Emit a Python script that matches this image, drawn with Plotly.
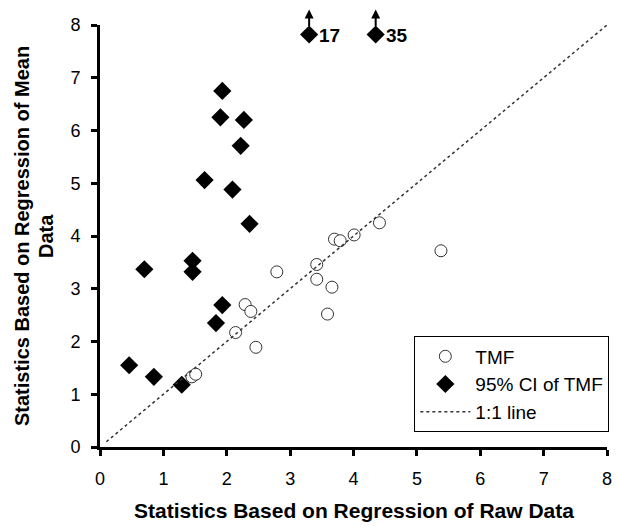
import plotly.graph_objects as go

# TMF point estimates
tmf_x = [1.45, 1.51, 2.14, 2.29, 2.38, 2.46, 2.79, 3.42, 3.42, 3.59, 3.66, 3.70, 3.79, 4.01, 4.41, 5.38]
tmf_y = [1.33, 1.38, 2.17, 2.70, 2.57, 1.89, 3.32, 3.46, 3.18, 2.52, 3.03, 3.94, 3.91, 4.02, 4.25, 3.72]

# 95% CI bounds of TMF
ci_x = [0.46, 0.70, 0.85, 1.29, 1.46, 1.46, 1.65, 1.83, 1.90, 1.93, 1.93, 2.09, 2.22, 2.27, 2.36, 3.30, 4.35]
ci_y = [1.55, 3.37, 1.33, 1.18, 3.53, 3.32, 5.06, 2.35, 6.25, 6.75, 2.69, 4.88, 5.71, 6.20, 4.23, 7.82, 7.82]

# off-scale values (plotted at the top edge)
offscale_x = [3.30, 4.35]
offscale_y = [7.82, 7.82]
offscale_labels = ["17", "35"]

# 1:1 line
line_x = [0.1, 8]
line_y = [0.1, 8]

ticks = [0, 1, 2, 3, 4, 5, 6, 7, 8]

FONT = "Liberation Sans, Arial, sans-serif"

fig = go.Figure()
fig.add_trace(go.Scatter(
    x=tmf_x, y=tmf_y, mode="markers", name="TMF",
    marker=dict(symbol="circle", size=12, color="white",
                line=dict(color="#333333", width=1)),
    cliponaxis=False))
fig.add_trace(go.Scatter(
    x=ci_x, y=ci_y, mode="markers", name="95% CI of TMF",
    marker=dict(symbol="diamond", size=14, color="black",
                line=dict(color="black", width=0)),
    cliponaxis=False))
fig.add_trace(go.Scatter(
    x=line_x, y=line_y, mode="lines", name="1:1 line",
    line=dict(color="#333333", width=1.5, dash="dot")))

annotations = []
for xv, yv, lab in zip(offscale_x, offscale_y, offscale_labels):
    annotations.append(dict(
        x=xv, y=yv, xref="x", yref="y", yshift=25,
        text="", showarrow=True, ax=0, ay=18,
        arrowhead=2, arrowsize=0.9, arrowwidth=2, arrowcolor="black",
        standoff=0, startstandoff=0))
    annotations.append(dict(
        x=xv, y=yv, xref="x", yref="y", text="<b>" + lab + "</b>",
        showarrow=False, xanchor="left", xshift=8, yshift=-1,
        font=dict(family=FONT, size=19, color="black")))

# axis titles
annotations.append(dict(
    x=0.5, y=0, xref="paper", yref="paper", yshift=-63,
    text="<b>Statistics Based on Regression of Raw Data</b>",
    showarrow=False, xanchor="center", yanchor="middle",
    font=dict(family=FONT, size=21, color="black")))
annotations.append(dict(
    x=0, y=0.5, xref="paper", yref="paper", xshift=-78,
    text="<b>Statistics Based on Regression of Mean</b>",
    showarrow=False, textangle=-90, xanchor="center", yanchor="middle",
    font=dict(family=FONT, size=20, color="black")))
annotations.append(dict(
    x=0, y=0.5, xref="paper", yref="paper", xshift=-54,
    text="<b>Data</b>",
    showarrow=False, textangle=-90, xanchor="center", yanchor="middle",
    font=dict(family=FONT, size=20, color="black")))

axis_common = dict(
    range=[0, 8], tickvals=ticks, ticktext=[str(t) for t in ticks],
    showline=True, linewidth=3, linecolor="black",
    ticks="outside", ticklen=6, tickwidth=3, tickcolor="black",
    showgrid=False, zeroline=False,
    tickfont=dict(family=FONT, size=18, color="black"),
)

fig.update_layout(
    width=618, height=527,
    margin=dict(l=100, r=11, t=25, b=80, autoexpand=False),
    paper_bgcolor="white", plot_bgcolor="white",
    xaxis=dict(**axis_common, ticklabelstandoff=7, automargin=False),
    yaxis=dict(**axis_common, ticklabelstandoff=7, automargin=False),
    showlegend=True,
    legend=dict(x=0.62, y=0.262, xanchor="left", yanchor="top",
                bordercolor="black", borderwidth=1, bgcolor="white",
                font=dict(family=FONT, size=19, color="black"),
                tracegroupgap=0, itemwidth=50),
    annotations=annotations,
    font=dict(family=FONT, color="black"),
)

fig.write_html("out.html")
